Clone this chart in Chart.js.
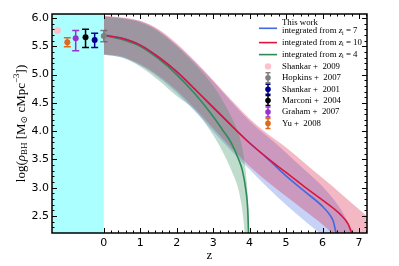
<!DOCTYPE html>
<html>
<head>
<meta charset="utf-8">
<script src="https://cdn.jsdelivr.net/npm/chart.js@4.4.1/dist/chart.umd.min.js"></script>
<style>
  html, body { margin: 0; padding: 0; background: #fff; }
</style>
</head>
<body>
<canvas id="bhChart" width="399" height="266"></canvas>
<script>
// integrated from z_i = 10
const redZ = [0, 0.5, 1, 1.5, 2, 2.5, 3, 3.5, 4, 4.5, 5, 5.5, 6, 6.5, 6.7, 6.8];
const redRho = [5.70, 5.64, 5.52, 5.31, 5.05, 4.74, 4.42, 4.10, 3.79, 3.52, 3.27, 3.02, 2.78, 2.52, 2.36, 2.20];
const redBandZ = [0, 0.5, 1, 1.5, 2, 2.5, 3, 3.5, 4, 4.5, 5, 5.5, 6, 6.5, 7, 7.3];
const redHi = [6.04, 6.01, 5.95, 5.80, 5.55, 5.24, 4.90, 4.55, 4.22, 3.95, 3.71, 3.44, 3.17, 2.90, 2.62, 2.45];
const redLo = [5.36, 5.32, 5.18, 4.98, 4.72, 4.40, 4.05, 3.70, 3.38, 3.10, 2.85, 2.60, 2.35, 2.05, 1.80, 1.60];

// integrated from z_i = 7
const blueZ = [0, 0.5, 1, 1.5, 2, 2.5, 3, 3.5, 4, 4.5, 5, 5.5, 6, 6.2, 6.3, 6.37];
const blueRho = [5.70, 5.64, 5.52, 5.31, 5.05, 4.74, 4.42, 4.10, 3.79, 3.51, 3.21, 2.94, 2.67, 2.52, 2.40, 2.20];
const blueBandZ = [0, 0.5, 1, 1.5, 2, 2.5, 3, 3.5, 4, 4.5, 5, 5.5, 6, 6.5, 7];
const blueHi = [6.03, 6.00, 5.94, 5.78, 5.52, 5.22, 4.88, 4.52, 4.18, 3.90, 3.62, 3.32, 3.02, 2.62, 2.00];
const blueLo = [5.35, 5.30, 5.16, 4.95, 4.68, 4.35, 4.00, 3.65, 3.32, 3.00, 2.70, 2.42, 2.15, 1.80, 1.50];

// integrated from z_i = 4
const greenZ = [0, 0.5, 1, 1.5, 2, 2.5, 3, 3.25, 3.5, 3.7, 3.8, 3.9, 3.95, 3.98];
const greenRho = [5.69, 5.62, 5.50, 5.28, 5.00, 4.66, 4.26, 4.03, 3.79, 3.50, 3.31, 2.95, 2.60, 2.00];
const greenBandZ = [0, 0.5, 1, 1.5, 2, 2.5, 3, 3.25, 3.5, 3.7, 3.8, 3.9, 3.95, 4.0];
const greenHi = [6.02, 5.99, 5.92, 5.76, 5.50, 5.18, 4.80, 4.55, 4.25, 3.95, 3.70, 3.25, 2.85, 2.00];
const greenLo = [5.35, 5.30, 5.14, 4.90, 4.62, 4.37, 3.93, 3.65, 3.31, 2.95, 2.60, 2.00, 1.80, 1.60];

// local observations
const obsNames = ["Shankar + 2009", "Hopkins + 2007", "Shankar + 2001", "Marconi + 2004", "Graham + 2007", "Yu + 2008"];
const obsColors = ["#ffc0cb", "#808080", "#00008b", "#000000", "#9932cc", "#e06a1c"];
const obsZ = [-1.27, 0.0, -0.25, -0.5, -0.77, -1.0];
const obsRho = [5.78, 5.68, 5.61, 5.66, 5.64, 5.57];
const obsErrUp = [0, 0.10, 0.12, 0.14, 0.14, 0.08];
const obsErrDown = [0, 0.10, 0.13, 0.18, 0.22, 0.08];

const xTicks = [0, 1, 2, 3, 4, 5, 6, 7];
const yTicks = [2.5, 3.0, 3.5, 4.0, 4.5, 5.0, 5.5, 6.0];

const RED = "#dc143c";
const BLUE = "#4169e1";
const GREEN = "#2e8b57";

function pts(xs, ys) {
  return xs.map((x, i) => ({ x: x, y: ys[i] }));
}

function lineSet(xs, ys, color) {
  return {
    type: "line",
    data: pts(xs, ys),
    borderColor: color,
    borderWidth: 1.6,
    pointRadius: 0,
    fill: false,
    cubicInterpolationMode: "monotone"
  };
}

function bandSet(xs, ys, color, fill) {
  return {
    type: "line",
    data: pts(xs, ys),
    borderWidth: 0,
    borderColor: "rgba(0,0,0,0)",
    backgroundColor: color,
    pointRadius: 0,
    fill: fill,
    cubicInterpolationMode: "monotone"
  };
}

// chart.js paints later datasets first: blue band, then red, then green on top
const datasets = [
  lineSet(redZ, redRho, RED),
  lineSet(blueZ, blueRho, BLUE),
  lineSet(greenZ, greenRho, GREEN),
  bandSet(greenBandZ, greenHi, "rgba(46,139,87,0.3)", "+1"),
  bandSet(greenBandZ, greenLo, "rgba(0,0,0,0)", false),
  bandSet(redBandZ, redHi, "rgba(220,20,60,0.3)", "+1"),
  bandSet(redBandZ, redLo, "rgba(0,0,0,0)", false),
  bandSet(blueBandZ, blueHi, "rgba(65,105,225,0.3)", "+1"),
  bandSet(blueBandZ, blueLo, "rgba(0,0,0,0)", false)
];

obsNames.forEach((name, i) => {
  datasets.push({
    type: "scatter",
    label: name,
    order: -1,
    data: [{ x: obsZ[i], y: obsRho[i] }],
    pointRadius: i === 0 ? 3.5 : 3,
    pointBackgroundColor: obsColors[i],
    pointBorderWidth: 0
  });
});

function drawErrorBar(ctx, px, pyTop, pyBottom, color, cap) {
  ctx.strokeStyle = color;
  ctx.lineWidth = 1.5;
  ctx.beginPath();
  ctx.moveTo(px, pyTop);
  ctx.lineTo(px, pyBottom);
  ctx.moveTo(px - cap, pyTop);
  ctx.lineTo(px + cap, pyTop);
  ctx.moveTo(px - cap, pyBottom);
  ctx.lineTo(px + cap, pyBottom);
  ctx.stroke();
}

function drawPieces(ctx, pieces, x, y) {
  pieces.forEach(p => {
    ctx.font = p.font;
    ctx.fillText(p.text, x, y + (p.dy || 0));
    x += ctx.measureText(p.text).width;
  });
  return x;
}

function piecesWidth(ctx, pieces) {
  let w = 0;
  pieces.forEach(p => {
    ctx.font = p.font;
    w += ctx.measureText(p.text).width;
  });
  return w;
}

const SERIF = "'Liberation Serif', 'DejaVu Serif', serif";

const decorations = {
  id: "decorations",
  beforeDatasetsDraw(chart) {
    const { ctx, chartArea: a, scales: { x, y } } = chart;
    ctx.save();
    ctx.fillStyle = "rgba(0,255,255,0.33)";
    const x0 = x.getPixelForValue(0);
    ctx.fillRect(a.left, a.top, x0 - a.left, a.bottom - a.top);

    obsNames.forEach((name, i) => {
      if (obsErrUp[i] === 0 && obsErrDown[i] === 0) return;
      drawErrorBar(
        ctx,
        x.getPixelForValue(obsZ[i]),
        y.getPixelForValue(obsRho[i] + obsErrUp[i]),
        y.getPixelForValue(obsRho[i] - obsErrDown[i]),
        obsColors[i],
        3.5
      );
    });
    ctx.restore();
  },
  afterDraw(chart) {
    const { ctx, chartArea: a, scales: { x, y } } = chart;
    ctx.save();

    // inward ticks on all four sides
    ctx.strokeStyle = "#000";
    ctx.lineWidth = 1;
    ctx.beginPath();
    for (let k = 0; k <= 36; k++) {
      const v = k * 0.2;
      const px = Math.round(x.getPixelForValue(v)) + 0.5;
      const len = k % 5 === 0 ? 5 : 2.5;
      ctx.moveTo(px, a.bottom);
      ctx.lineTo(px, a.bottom - len);
      ctx.moveTo(px, a.top);
      ctx.lineTo(px, a.top + len);
    }
    for (let k = 23; k <= 60; k++) {
      const v = k / 10;
      const py = Math.round(y.getPixelForValue(v)) + 0.5;
      const len = k % 5 === 0 ? 5 : 2.5;
      ctx.moveTo(a.left, py);
      ctx.lineTo(a.left + len, py);
      ctx.moveTo(a.right, py);
      ctx.lineTo(a.right - len, py);
    }
    ctx.stroke();

    ctx.lineWidth = 1.5;
    ctx.strokeRect(a.left, a.top, a.right - a.left, a.bottom - a.top);

    // y axis title
    const big = "13px " + SERIF;
    const bigIt = "italic 13px " + SERIF;
    const small = "9px " + SERIF;
    const title = [
      { text: "log(", font: big },
      { text: "ρ", font: bigIt },
      { text: "BH", font: small, dy: 3 },
      { text: " [M", font: big },
      { text: "⊙", font: small, dy: 3 },
      { text: " cMpc", font: big },
      { text: "−3", font: small, dy: -5 },
      { text: "])", font: big }
    ];
    ctx.fillStyle = "#000";
    ctx.textBaseline = "middle";
    ctx.translate(22, (a.top + a.bottom) / 2);
    ctx.rotate(-Math.PI / 2);
    drawPieces(ctx, title, -piecesWidth(ctx, title) / 2, 0);
    ctx.setTransform(1, 0, 0, 1, 0, 0);

    // legend
    const lf = "8.8px " + SERIF;
    const lfIt = "italic 8.8px " + SERIF;
    const lfSub = "6px " + SERIF;
    const tx = 282;
    const hx = 268;
    const zi = n => [
      { text: "integrated from ", font: lf },
      { text: "z", font: lfIt },
      { text: "i", font: lfSub, dy: 2 },
      { text: " = " + n, font: lf }
    ];
    ctx.textBaseline = "middle";
    ctx.fillStyle = "#000";
    ctx.font = lf;
    ctx.fillText("This work", tx, 22.3);
    drawPieces(ctx, zi("7"), tx, 31);
    drawPieces(ctx, zi("10"), tx, 42.6);
    drawPieces(ctx, zi("4"), tx, 54.6);

    ctx.lineWidth = 1.6;
    [[BLUE, 28.3], [RED, 42.6], [GREEN, 54.6]].forEach(([c, ly]) => {
      ctx.strokeStyle = c;
      ctx.beginPath();
      ctx.moveTo(259, ly);
      ctx.lineTo(277, ly);
      ctx.stroke();
    });

    obsNames.forEach((name, i) => {
      const ly = 66.4 + i * 11.4;
      if (i > 0) drawErrorBar(ctx, hx, ly - 5, ly + 5, obsColors[i], 2.5);
      ctx.fillStyle = obsColors[i];
      ctx.beginPath();
      ctx.arc(hx, ly, i === 0 ? 3.2 : 2.8, 0, Math.PI * 2);
      ctx.fill();
      ctx.fillStyle = "#000";
      ctx.font = lf;
      ctx.fillText(name.replace(" + ", " +  "), tx, ly);
    });

    ctx.restore();
  }
};

const bhChart = new Chart(document.getElementById("bhChart"), {
  type: "line",
  data: { datasets: datasets },
  plugins: [decorations],
  options: {
    responsive: false,
    animation: false,
    layout: { padding: { top: 14, right: 32, left: 0, bottom: 0 } },
    plugins: {
      legend: { display: false },
      tooltip: { enabled: false }
    },
    scales: {
      x: {
        type: "linear",
        min: -1.42,
        max: 7.22,
        grid: { display: false, drawTicks: false },
        border: { display: false },
        afterBuildTicks: scale => {
          scale.ticks = xTicks.map(v => ({ value: v }));
        },
        afterFit: scale => {
          scale.height = 33;
        },
        ticks: {
          font: { family: "DejaVu Sans", size: 11 },
          color: "#000",
          padding: 4,
          maxRotation: 0,
          autoSkip: false,
          callback: v => String(v)
        },
        title: {
          display: true,
          text: "z",
          font: { family: "Liberation Serif", size: 13 },
          color: "#000",
          padding: { top: 0, bottom: 3 }
        }
      },
      y: {
        type: "linear",
        min: 2.2,
        max: 6.07,
        grid: { display: false, drawTicks: false },
        border: { display: false },
        afterBuildTicks: scale => {
          scale.ticks = yTicks.map(v => ({ value: v }));
        },
        afterFit: scale => {
          scale.width = 52;
        },
        ticks: {
          font: { family: "DejaVu Sans", size: 11 },
          color: "#000",
          padding: 3,
          autoSkip: false,
          callback: v => v.toFixed(1)
        }
      }
    }
  }
});
</script>
</body>
</html>
